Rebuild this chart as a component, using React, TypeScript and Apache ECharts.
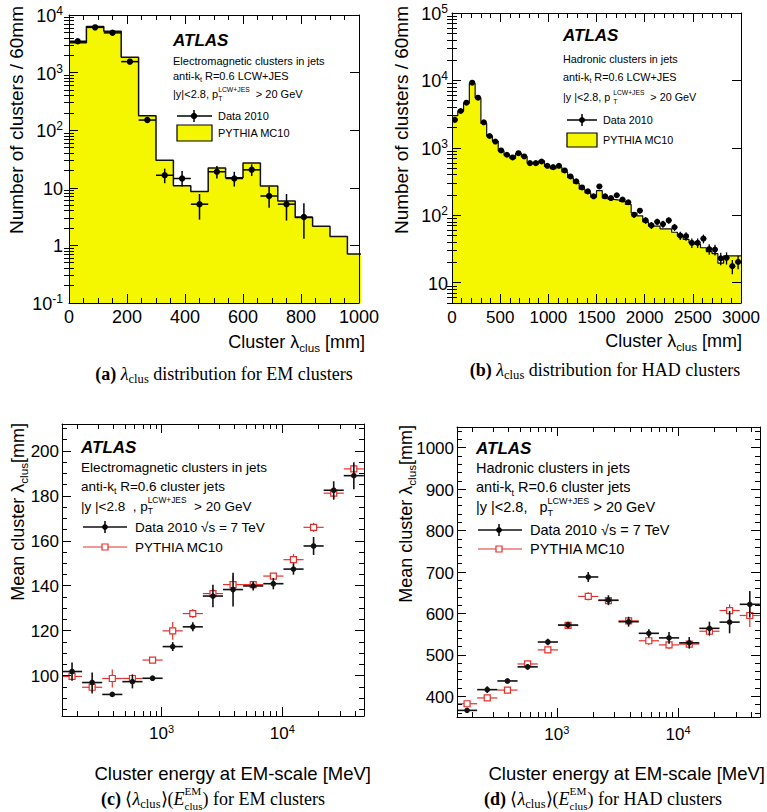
import React, { useEffect, useRef } from 'react';
import * as echarts from 'echarts';

// (a) EM clusters: lambda_clus distribution, 60 mm bins starting at 0
const binWidth = 60;
const emMcCounts = [3300, 6300, 5200, 1850, 178, 30, 10.8, 8.6, 22, 15, 27, 10.7, 5.9, 3.05, 2.15, 1.43, 0.71];
const emDataCounts = [3500, 6100, 4900, 1550, 150, 16.5, 14.5, 5.2, 19, 14.5, 20.5, 7.2, 5.2, 3.1];
const emDataErrDown = [60, 80, 70, 40, 12, 4.5, 4, 2.4, 4.5, 4, 4.5, 2.7, 2.5, 1.8];
const emDataErrUp = [60, 80, 70, 40, 12, 5, 5, 2.6, 5, 4.5, 5, 3.2, 2.6, 2.3];

// (b) HAD clusters: lambda_clus distribution, 60 mm bins starting at 0
const hadMcCounts = [3000, 3500, 4600, 9000, 5500, 2300, 1500, 1250, 900, 780, 700, 830, 740, 590, 580, 640, 530, 490, 520, 440,
  360, 300, 245, 215, 185, 232, 180, 172, 168, 161, 145, 108, 98, 80, 69, 69, 63, 63, 56, 49,
  44, 39, 37, 33, 29, 27, 19.5, 25, 25, 25];
const hadDataCounts = [2600, 3520, 4680, 9250, 5540, 2390, 1500, 1240, 915, 790, 720, 833, 745, 593, 593, 628, 542, 518, 542, 462,
  377, 318, 259, 226, 191, 268, 191, 180, 198, 171, 156, 102, 117, 84, 71, 80, 74, 84, 66.5, 50,
  49, 39, 39, 45, 31.6, 31, 23, 23.4, 17.6, 20.3];
const hadDataErr = [50, 60, 70, 100, 75, 50, 40, 35, 30, 28, 27, 29, 27, 24, 24, 25, 23, 23, 23, 21,
  19, 18, 16, 15, 14, 16, 14, 13, 14, 13, 12.5, 10, 11, 9, 8.5, 9, 8.6, 9, 8, 7,
  7, 6.2, 6.2, 6.7, 5.6, 5.6, 4.8, 4.8, 4.2, 4.5];

// (c), (d) mean lambda_clus vs cluster energy (MeV), log-spaced bins
const energyBinEdges = [150, 220, 323, 474, 696, 1022, 1500, 2200, 3230, 4740, 6960, 10220, 15000, 22000, 32300, 47400];
const emMeanData = [101.8, 96.9, 91.6, 97.3, 98.8, 112.9, 121.7, 135.4, 138.3, 139.9, 140.9, 147.4, 157.7, 182.5, 189];
const emMeanDataErr = [4, 4.5, 1, 3, 1.2, 2, 2, 5, 7.5, 2, 2.5, 2.5, 4, 4, 6];
const emMeanMc = [99.6, 94.8, 98.7, 98.7, 106.9, 119.9, 127.6, 136.5, 140.5, 140.5, 144.3, 151.6, 166, 181.2, 192];
const emMeanMcErr = [2, 3, 4, 2, 1, 4, 2, 2, 4, 1, 1, 2.5, 2, 3, 2];
const hadMeanData = [366, 416, 437, 471, 531, 572, 688, 632, 580, 552, 541, 529, 564, 579, 622];
const hadMeanDataErr = [5, 8, 6, 7, 8, 8, 12, 12, 12, 10, 14, 14, 16, 27, 32];
const hadMeanMc = [382, 396, 415, 478, 512, 571, 641, 631, 582, 534, 524, 526, 557, 607, 595];
const hadMeanMcErr = [5, 5, 5, 6, 6, 6, 10, 8, 9, 10, 10, 8, 12, 15, 28];

// axis ticks
const emLambdaTicks = [0, 200, 400, 600, 800, 1000];
const hadLambdaTicks = [0, 500, 1000, 1500, 2000, 2500, 3000];
const emCountTicks = [0.1, 1, 10, 100, 1000, 10000];
const hadCountTicks = [10, 100, 1000, 10000, 100000];
const energyTicks = [1000, 10000];
const emMeanTicks = [100, 120, 140, 160, 180, 200];
const hadMeanTicks = [400, 500, 600, 700, 800, 900, 1000];

const SANS = '"Liberation Sans", Arial, Helvetica, sans-serif';
const SERIF = '"Liberation Serif", "Times New Roman", serif';
const YELLOW = '#f4f700';
const RED = '#e3302c';

const linMinor = (lo: number, hi: number, step: number) => {
  const out: number[] = [];
  for (let v = lo; v <= hi + 1e-9; v += step) out.push(+v.toFixed(6));
  return out;
};
const logMinor = (lo: number, hi: number) => {
  const out: number[] = [];
  for (let d = Math.floor(Math.log10(lo)); d <= Math.ceil(Math.log10(hi)); d++) {
    for (let m = 2; m <= 9; m++) {
      const v = m * Math.pow(10, d);
      if (v >= lo * 0.999 && v <= hi * 1.001) out.push(v);
    }
  }
  return out;
};

let measureCtx: CanvasRenderingContext2D | null = null;
function textWidth(s: string, font: string) {
  if (!measureCtx) measureCtx = document.createElement('canvas').getContext('2d');
  measureCtx!.font = font;
  return measureCtx!.measureText(s).width;
}

type Piece = string | { t?: string; f?: string; s?: number; dy?: number; sup?: string; sub?: string };

// lays out a line of text pieces (with sub/superscripts) as graphic texts
function mathText(x: number, y: number, pieces: Piece[], o: { size: number; family?: string; align?: string; rotate?: boolean; fill?: string }) {
  const fam = o.family || SANS;
  const size = o.size;
  const kids: any[] = [];
  let cx = 0;
  const put = (t: string, font: string, px: number, py: number) =>
    kids.push({
      type: 'text', x: px, y: py, silent: true,
      style: { text: t, font, fill: o.fill || '#000', align: 'left', verticalAlign: 'middle', textAlign: 'left', textVerticalAlign: 'middle' },
    });
  for (const raw of pieces) {
    const p = typeof raw === 'string' ? { t: raw } : raw;
    if (p.sup !== undefined || p.sub !== undefined) {
      const sf = `${(size * 0.62).toFixed(1)}px ${fam}`;
      const w = Math.max(p.sup ? textWidth(p.sup, sf) : 0, p.sub ? textWidth(p.sub, sf) : 0);
      if (p.sup) put(p.sup, sf, cx, -0.42 * size);
      if (p.sub) put(p.sub, sf, cx, 0.38 * size);
      cx += w;
    } else {
      const font = `${p.f ? p.f + ' ' : ''}${(size * (p.s || 1)).toFixed(1)}px ${fam}`;
      put(p.t || '', font, cx, (p.dy || 0) * size);
      cx += textWidth(p.t || '', font);
    }
  }
  const shift = o.align === 'center' ? -cx / 2 : o.align === 'right' ? -cx : 0;
  kids.forEach((k) => (k.x += shift));
  return { type: 'group', x, y, rotation: o.rotate ? Math.PI / 2 : 0, children: kids, silent: true };
}

const logFormatter = (v: number) => {
  const e = Math.round(Math.log10(v));
  if (e === 0) return '{b|1}';
  if (e === 1) return '{b|10}';
  return '{b|10}{sup|' + e + '}';
};
const linFormatter = (v: number) => '{b|' + v + '}';

function labelStyle(size: number, margin: number, formatter: any) {
  return {
    show: true, color: '#000', fontFamily: SANS, fontSize: size, margin, formatter,
    rich: {
      b: { fontFamily: SANS, fontSize: size, color: '#000', lineHeight: size + 2, verticalAlign: 'bottom' },
      sup: { fontFamily: SANS, fontSize: Math.round(size * 0.66), color: '#000', lineHeight: Math.round(size * 0.7), verticalAlign: 'top', padding: [0, 0, Math.round(size * 0.6), 0] },
    },
  };
}

// four axes per dimension: main (line, labels, major ticks), minor ticks, mirrored major and minor ticks
function axisSet(dim: 'x' | 'y', gridIndex: number, type: string, min: number, max: number, majors: number[], minors: number[], label: any) {
  const [near, far] = dim === 'x' ? ['bottom', 'top'] : ['left', 'right'];
  const common: any = {
    gridIndex, type, min, max, z: 10, silent: true,
    splitLine: { show: false },
    axisLine: { show: true, onZero: false, lineStyle: { color: '#000', width: 1 } },
    axisLabel: { show: false },
    axisTick: { show: false },
  };
  if (type === 'log') common.logBase = 10;
  const ticks = (vals: number[], len: number) => ({ show: true, inside: true, length: len, customValues: vals, lineStyle: { color: '#000', width: 1 } });
  return [
    { ...common, position: near, axisTick: ticks(majors, 9), axisLabel: { ...label, customValues: majors } },
    { ...common, position: near, axisLine: { show: false }, axisTick: ticks(minors, 5) },
    { ...common, position: far, axisTick: ticks(majors, 9) },
    { ...common, position: far, axisLine: { show: false }, axisTick: ticks(minors, 5) },
  ];
}

function histOutline(counts: number[]) {
  const pts: number[][] = [];
  counts.forEach((c, i) => {
    pts.push([i * binWidth, c], [(i + 1) * binWidth, c]);
  });
  return pts;
}

const makeRender = (kind: 'dot' | 'square', color: string, lw: number, size: number) => (params: any, api: any) => {
  const x = api.value(0);
  const y = api.value(1);
  const c = api.coord([x, y]);
  const l = api.coord([api.value(2), y]);
  const r = api.coord([api.value(3), y]);
  const lo = api.coord([x, api.value(4)]);
  const hi = api.coord([x, api.value(5)]);
  const ls = { stroke: color, lineWidth: lw };
  return {
    type: 'group',
    children: [
      { type: 'line', shape: { x1: l[0], y1: c[1], x2: r[0], y2: c[1] }, style: ls },
      { type: 'line', shape: { x1: c[0], y1: lo[1], x2: c[0], y2: hi[1] }, style: ls },
      kind === 'dot'
        ? { type: 'circle', shape: { cx: c[0], cy: c[1], r: size }, style: { fill: color } }
        : { type: 'rect', shape: { x: c[0] - size, y: c[1] - size, width: 2 * size, height: 2 * size }, style: { fill: '#fff', stroke: color, lineWidth: 1.2 } },
    ],
  };
};

function errSeries(name: string, data: number[][], xi: number, yi: number, render: any, z: number) {
  return { name, type: 'custom', xAxisIndex: xi, yAxisIndex: yi, data, renderItem: render, clip: true, z, encode: { x: 0, y: 1 }, silent: true };
}

function legendText(panel: { x: number; y: number; size: number; lines: Piece[][]; gap: number[] }) {
  return panel.lines.map((ln, i) => mathText(panel.x, panel.y + panel.gap[i], ln, { size: panel.size }));
}

export default function App() {
  const chartRef = useRef<HTMLDivElement>(null);

  useEffect(() => {
    if (!chartRef.current) return;
    document.body.style.margin = '0';
    const chart = echarts.init(chartRef.current, null, { renderer: 'svg' });

    const histData = (counts: number[], down: number[], up: number[]) =>
      counts.map((c, i) => [i * binWidth + binWidth / 2, c, i * binWidth, (i + 1) * binWidth, c - down[i], c + up[i]]);
    const meanData = (vals: number[], err: number[]) =>
      vals.map((v, i) => {
        const lo = energyBinEdges[i];
        const hi = energyBinEdges[i + 1];
        return [Math.sqrt(lo * hi), v, lo, hi, v - err[i], v + err[i]];
      });

    const xAxes = [
      ...axisSet('x', 0, 'value', 0, 1000, emLambdaTicks, linMinor(0, 1000, 50), labelStyle(18, 3, linFormatter)),
      ...axisSet('x', 1, 'value', 0, 3000, hadLambdaTicks, linMinor(0, 3000, 100), labelStyle(17, 4, linFormatter)),
      ...axisSet('x', 2, 'log', 150, 47500, energyTicks, logMinor(150, 47500), labelStyle(17, 7, logFormatter)),
      ...axisSet('x', 3, 'log', 150, 47500, energyTicks, logMinor(150, 47500), labelStyle(17, 7, logFormatter)),
    ];
    const yAxes = [
      ...axisSet('y', 0, 'log', 0.1, 10000, emCountTicks, logMinor(0.1, 10000), labelStyle(18, 6, logFormatter)),
      ...axisSet('y', 1, 'log', 5, 100000, hadCountTicks, logMinor(5, 100000), labelStyle(18, 4, logFormatter)),
      ...axisSet('y', 2, 'value', 82, 212, emMeanTicks, linMinor(85, 210, 5), labelStyle(17, 3, linFormatter)),
      ...axisSet('y', 3, 'value', 350, 1050, hadMeanTicks, linMinor(360, 1040, 20), labelStyle(17, 3, linFormatter)),
    ];

    const histSeries = (counts: number[], xi: number, yi: number, lw: number) => ({
      type: 'line', xAxisIndex: xi, yAxisIndex: yi, data: histOutline(counts), symbol: 'none', clip: true, z: 2, silent: true,
      lineStyle: { color: '#111', width: lw },
      areaStyle: { color: YELLOW, opacity: 1, origin: 'start' },
    });

    const graphics: any[] = [
      // axis titles
      mathText(16, 6, ['Number of clusters / 60mm'], { size: 19, align: 'right', rotate: true }),
      mathText(401, 6, ['Number of clusters / 60mm'], { size: 19, align: 'right', rotate: true }),
      mathText(365, 342, ['Cluster λ', { t: 'clus', s: 0.65, dy: 0.32 }, ' [mm]'], { size: 18, align: 'right' }),
      mathText(742, 341, ['Cluster λ', { t: 'clus', s: 0.65, dy: 0.32 }, ' [mm]'], { size: 18, align: 'right' }),
      mathText(18, 423, ['Mean cluster λ', { t: 'clus', s: 0.65, dy: 0.32 }, '[mm]'], { size: 18, align: 'right', rotate: true }),
      mathText(406, 425, ['Mean cluster λ', { t: 'clus', s: 0.65, dy: 0.32 }, '[mm]'], { size: 18, align: 'right', rotate: true }),
      mathText(371, 773, ['Cluster energy at EM-scale [MeV]'], { size: 18.5, align: 'right' }),
      mathText(765, 773, ['Cluster energy at EM-scale [MeV]'], { size: 18.5, align: 'right' }),
      // captions
      mathText(224, 374, [{ t: '(a)', f: 'bold' }, ' ', { t: 'λ', f: 'italic' }, { t: 'clus', s: 0.7, dy: 0.28 }, ' distribution for EM clusters'], { size: 18, family: SERIF, align: 'center' }),
      mathText(605, 370, [{ t: '(b)', f: 'bold' }, ' ', { t: 'λ', f: 'italic' }, { t: 'clus', s: 0.7, dy: 0.28 }, ' distribution for HAD clusters'], { size: 18, family: SERIF, align: 'center' }),
      mathText(213, 799, [{ t: '(c)', f: 'bold' }, ' ⟨', { t: 'λ', f: 'italic' }, { t: 'clus', s: 0.7, dy: 0.28 }, '⟩(', { t: 'E', f: 'italic' }, { sup: 'EM', sub: 'clus' }, ') for EM clusters'], { size: 18, family: SERIF, align: 'center' }),
      mathText(603, 799, [{ t: '(d)', f: 'bold' }, ' ⟨', { t: 'λ', f: 'italic' }, { t: 'clus', s: 0.7, dy: 0.28 }, '⟩(', { t: 'E', f: 'italic' }, { sup: 'EM', sub: 'clus' }, ') for HAD clusters'], { size: 18, family: SERIF, align: 'center' }),
      // ATLAS labels
      mathText(173, 40, [{ t: 'ATLAS', f: 'italic bold' }], { size: 17 }),
      mathText(563, 35, [{ t: 'ATLAS', f: 'italic bold' }], { size: 17 }),
      mathText(81, 447, [{ t: 'ATLAS', f: 'italic bold' }], { size: 17 }),
      mathText(476, 448, [{ t: 'ATLAS', f: 'italic bold' }], { size: 17 }),
      ...legendText({
        x: 173, y: 61, size: 11, gap: [0, 15, 33],
        lines: [
          ['Electromagnetic clusters in jets'],
          ['anti-k', { t: 't', s: 0.65, dy: 0.35 }, ' R=0.6 LCW+JES'],
          ['|y|<2.8, p', { sup: 'LCW+JES', sub: 'T' }, '  > 20 GeV'],
        ],
      }),
      ...legendText({
        x: 563, y: 59, size: 10.8, gap: [0, 18, 38],
        lines: [
          ['Hadronic clusters in jets'],
          ['anti-k', { t: 't', s: 0.65, dy: 0.35 }, ' R=0.6 LCW+JES'],
          ['|y |<2.8, p ', { sup: 'LCW+JES', sub: 'T' }, '  > 20 GeV'],
        ],
      }),
      ...legendText({
        x: 81, y: 467, size: 13.5, gap: [0, 19, 39],
        lines: [
          ['Electromagnetic clusters in jets'],
          ['anti-k', { t: 't', s: 0.65, dy: 0.35 }, ' R=0.6 cluster jets'],
          ['|y |<2.8  , p', { sup: 'LCW+JES', sub: 'T' }, '  > 20 GeV'],
        ],
      }),
      ...legendText({
        x: 476, y: 468, size: 14.5, gap: [0, 19, 39],
        lines: [
          ['Hadronic clusters in jets'],
          ['anti-k', { t: 't', s: 0.65, dy: 0.35 }, ' R=0.6 cluster jets'],
          ['|y |<2.8,   p', { sup: 'LCW+JES', sub: 'T' }, ' > 20 GeV'],
        ],
      }),
      // legends (a)
      { type: 'line', shape: { x1: 177, y1: 116, x2: 212, y2: 116 }, style: { stroke: '#000', lineWidth: 1.5 } },
      { type: 'line', shape: { x1: 194, y1: 110, x2: 194, y2: 122 }, style: { stroke: '#000', lineWidth: 1.5 } },
      { type: 'circle', shape: { cx: 194, cy: 116, r: 3.2 }, style: { fill: '#000' } },
      { type: 'rect', shape: { x: 177, y: 125, width: 35, height: 16 }, style: { fill: YELLOW, stroke: '#000', lineWidth: 1.2 } },
      mathText(218, 116, ['Data 2010'], { size: 11 }),
      mathText(218, 133, ['PYTHIA MC10'], { size: 11 }),
      // legends (b)
      { type: 'line', shape: { x1: 567, y1: 120, x2: 597, y2: 120 }, style: { stroke: '#000', lineWidth: 1.5 } },
      { type: 'line', shape: { x1: 582, y1: 114, x2: 582, y2: 126 }, style: { stroke: '#000', lineWidth: 1.5 } },
      { type: 'circle', shape: { cx: 582, cy: 120, r: 3 }, style: { fill: '#000' } },
      { type: 'rect', shape: { x: 567, y: 133, width: 30, height: 14 }, style: { fill: YELLOW, stroke: '#000', lineWidth: 1.2 } },
      mathText(603, 120, ['Data 2010'], { size: 10.8 }),
      mathText(603, 140, ['PYTHIA MC10'], { size: 10.8 }),
      // legends (c)
      { type: 'line', shape: { x1: 83, y1: 527, x2: 127, y2: 527 }, style: { stroke: '#111', lineWidth: 1.6 } },
      { type: 'line', shape: { x1: 105, y1: 521, x2: 105, y2: 533 }, style: { stroke: '#111', lineWidth: 1.6 } },
      { type: 'circle', shape: { cx: 105, cy: 527, r: 2.8 }, style: { fill: '#000' } },
      { type: 'line', shape: { x1: 83, y1: 547, x2: 127, y2: 547 }, style: { stroke: RED, lineWidth: 1.2 } },
      { type: 'rect', shape: { x: 102, y: 544, width: 6, height: 6 }, style: { fill: '#fff', stroke: RED, lineWidth: 1.2 } },
      mathText(135, 527, ['Data 2010 √s = 7 TeV'], { size: 13.5 }),
      mathText(135, 547, ['PYTHIA MC10'], { size: 13.5 }),
      // legends (d)
      { type: 'line', shape: { x1: 478, y1: 530, x2: 522, y2: 530 }, style: { stroke: '#111', lineWidth: 1.6 } },
      { type: 'line', shape: { x1: 499, y1: 524, x2: 499, y2: 536 }, style: { stroke: '#111', lineWidth: 1.6 } },
      { type: 'circle', shape: { cx: 499, cy: 530, r: 2.8 }, style: { fill: '#000' } },
      { type: 'line', shape: { x1: 478, y1: 549, x2: 522, y2: 549 }, style: { stroke: RED, lineWidth: 1.2 } },
      { type: 'rect', shape: { x: 496, y: 546, width: 6, height: 6 }, style: { fill: '#fff', stroke: RED, lineWidth: 1.2 } },
      mathText(530, 530, ['Data 2010 √s = 7 TeV'], { size: 14.5 }),
      mathText(530, 549, ['PYTHIA MC10'], { size: 14.5 }),
    ];

    const option = {
      animation: false,
      backgroundColor: '#fff',
      grid: [
        { left: 69, top: 15, width: 290, height: 288 },
        { left: 452, top: 13, width: 289, height: 290 },
        { left: 62, top: 424, width: 302, height: 292 },
        { left: 457, top: 427, width: 303, height: 290 },
      ],
      xAxis: xAxes,
      yAxis: yAxes,
      series: [
        histSeries(emMcCounts, 0, 0, 1.5),
        errSeries('Data 2010', histData(emDataCounts, emDataErrDown, emDataErrUp), 0, 0, makeRender('dot', '#000', 1.5, 3.2), 4),
        histSeries(hadMcCounts, 4, 4, 1.2),
        errSeries('Data 2010', histData(hadDataCounts, hadDataErr, hadDataErr), 4, 4, makeRender('dot', '#000', 1.3, 3), 4),
        errSeries('PYTHIA MC10', meanData(emMeanMc, emMeanMcErr), 8, 8, makeRender('square', RED, 1.2, 3), 3),
        errSeries('Data 2010', meanData(emMeanData, emMeanDataErr), 8, 8, makeRender('dot', '#111', 1.6, 2.8), 4),
        errSeries('PYTHIA MC10', meanData(hadMeanMc, hadMeanMcErr), 12, 12, makeRender('square', RED, 1.2, 3), 3),
        errSeries('Data 2010', meanData(hadMeanData, hadMeanDataErr), 12, 12, makeRender('dot', '#111', 1.6, 2.8), 4),
      ],
      graphic: { elements: graphics },
    };

    chart.setOption(option as any);

    return () => {
      chart.dispose();
    };
  }, []);

  return <div ref={chartRef} style={{ width: '767px', height: '812px' }} />;
}
